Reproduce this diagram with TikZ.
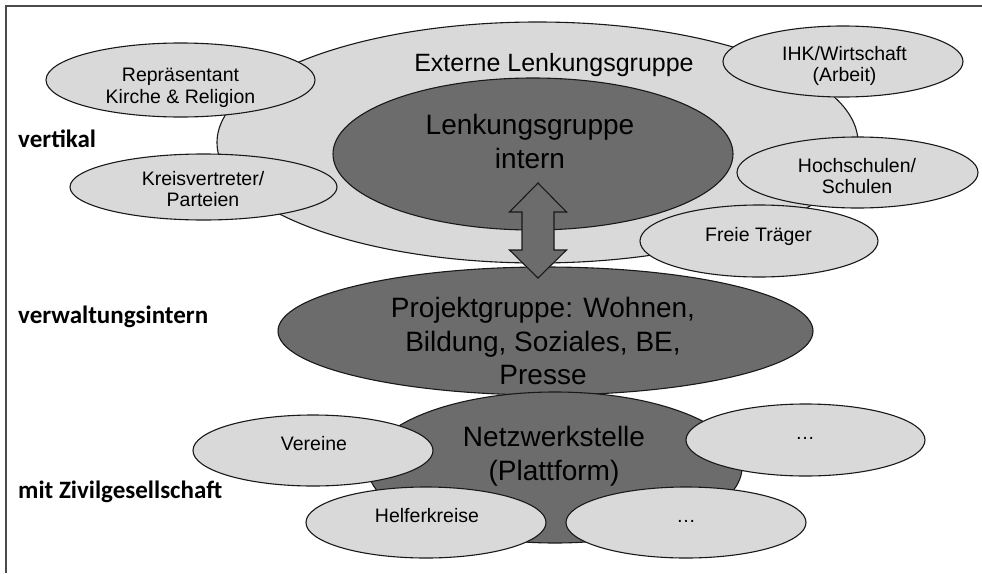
\documentclass[tikz,border=0pt]{standalone}
\usepackage{fontspec}
\setmainfont{Liberation Sans}
\newfontfamily\carlitofont{Carlito}
\usetikzlibrary{shapes.geometric}
\definecolor{lightfill}{RGB}{217,217,217}
\definecolor{darkfill}{RGB}{108,108,108}
\definecolor{outl}{RGB}{25,25,25}
\definecolor{framecol}{RGB}{75,75,75}
\tikzset{
  ell/.style={ellipse, draw=outl, line width=1.1pt, inner sep=0pt, outer sep=0pt},
  lightell/.style={ell, fill=lightfill},
  darkell/.style={ell, fill=darkfill},
  smalltxt/.style={inner sep=0pt, align=center, font=\fontsize{19.5}{21.5}\selectfont, text=black},
  bigtxt/.style={inner sep=0pt, align=center, font=\fontsize{28}{33.5}\selectfont, text=black},
  sidelabel/.style={inner sep=0pt, anchor=base west, font=\carlitofont\bfseries\fontsize{25}{30}\selectfont},
  fatarrow/.style={draw=outl, line width=1.1pt, fill=darkfill, line join=miter}
}
\begin{document}
\begin{tikzpicture}[x=1pt,y=-1pt]
\useasboundingbox (0,0) rectangle (982,573);
% frame
\draw[framecol, line width=1.4pt] (982,6) -- (6,6) -- (6,573);
% upper group
\node[lightell, minimum width=641, minimum height=241] (ext) at (537.5,142.5) {};
\node[darkell, minimum width=400, minimum height=152] (lint) at (533,154) {};
\node[lightell, minimum width=269, minimum height=74] (rep) at (180.5,80) {};
\node[lightell, minimum width=267, minimum height=66] (kreis) at (203.5,187) {};
\node[lightell, minimum width=240, minimum height=71] (ihk) at (843,61.5) {};
\node[lightell, minimum width=241, minimum height=71] (hoch) at (857.5,172.5) {};
\node[lightell, minimum width=238, minimum height=72] (freie) at (759,241) {};
% middle
\node[darkell, minimum width=535, minimum height=128] (proj) at (545.5,331) {};
% lower group
\node[darkell, minimum width=374, minimum height=151] (netz) at (555,467.5) {};
\node[lightell, minimum width=240, minimum height=71] (ver) at (313,450.5) {};
\node[lightell, minimum width=239, minimum height=72] (dotsA) at (805.5,440) {};
\node[lightell, minimum width=240, minimum height=71] (helf) at (426,522.5) {};
\node[lightell, minimum width=240, minimum height=71] (dotsB) at (686,522.5) {};
% double arrow between Lenkungsgruppe intern and Projektgruppe
\coordinate (atop) at (538,183);
\draw[fatarrow] (atop) -- ++(28.5,29) -- ++(-12.5,0) -- ++(0,38) -- ++(12.5,0)
  -- ++(-28.5,28) coordinate (abot) -- ++(-28.5,-28) -- ++(12.5,0) -- ++(0,-38) -- ++(-12.5,0) -- cycle;
% texts
\node[inner sep=0pt, anchor=base, font=\fontsize{25}{30}\selectfont] (extT) at (554,71) {Externe Lenkungsgruppe};
\node[bigtxt] (lintT) at (530,141.5) {Lenkungsgruppe\\intern};
\node[bigtxt] (projT) at (543,341) {Projektgruppe: Wohnen,\\Bildung, Soziales, BE,\\Presse};
\node[bigtxt] (netzT) at (554,456) {Netzwerkstelle\\(Plattform)};
\node[smalltxt] (repT) at (180.5,88) {Repräsentant\\Kirche \& Religion};
\node[smalltxt] (kreisT) at (203,189) {Kreisvertreter/\\Parteien};
\node[smalltxt] (ihkT) at (844.5,66) {IHK/Wirtschaft\\(Arbeit)};
\node[smalltxt] (hochT) at (857,176) {Hochschulen/\\Schulen};
\node[smalltxt, anchor=base] (freieT) at (758.5,241) {Freie Träger};
\node[smalltxt, anchor=base] (verT) at (314,450) {Vereine};
\node[smalltxt, anchor=base] (helfT) at (427,522) {Helferkreise};
\node[smalltxt] (dotsAT) at (805,438) {…};
\node[smalltxt] (dotsBT) at (686,521) {…};
% side labels
\node[sidelabel] (lv) at (18,147) {vertikal};
\node[sidelabel] (lw) at (18,323) {verwaltungsintern};
\node[sidelabel] (lz) at (18,498) {mit Zivilgesellschaft};
\end{tikzpicture}
\end{document}
